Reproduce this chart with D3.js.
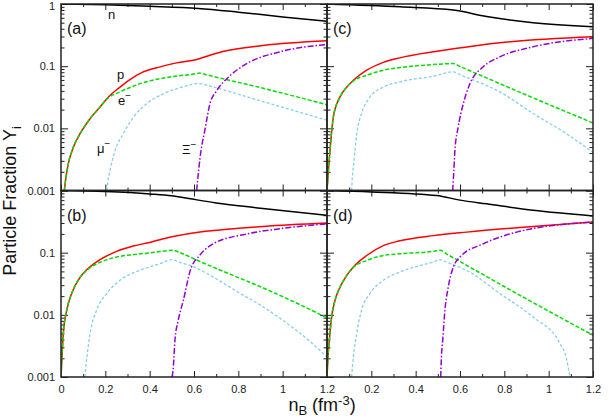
<!DOCTYPE html>
<html>
<head>
<meta charset="utf-8">
<script src="https://cdn.jsdelivr.net/npm/d3@7"></script>
<style>
  body { margin: 0; background: #fff; }
  svg { font-family: "Liberation Sans", Arial, Helvetica, sans-serif; }
</style>
</head>
<body>
<div id="chart"></div>
<script>
// particle fractions Y_i vs baryon density n_B (fm^-3)
// panel (a)
const aN  = [[0,1.0],[0.2,0.97],[0.4,0.92],[0.62,0.85],[0.8,0.74],[1.0,0.62],[1.2,0.53]];
const aP  = [[0.015,0.001],[0.022,0.0016],[0.033,0.0027],[0.056,0.005],[0.086,0.0082],[0.131,0.0143],[0.176,0.022],[0.214,0.032],[0.266,0.046],[0.311,0.061],[0.371,0.081],[0.447,0.0975],[0.522,0.113],[0.612,0.128],[0.672,0.15],[0.73,0.172],[0.91,0.215],[1.2,0.256]];
const aE  = [[0.015,0.001],[0.022,0.0016],[0.033,0.0027],[0.056,0.005],[0.086,0.0082],[0.131,0.0143],[0.176,0.022],[0.214,0.031],[0.266,0.0385],[0.326,0.0476],[0.401,0.058],[0.492,0.067],[0.612,0.076],[0.625,0.0775],[0.66,0.0722],[0.913,0.044],[1.2,0.024]];
const aMu = [[0.206,0.001],[0.213,0.0015],[0.221,0.0021],[0.244,0.0044],[0.281,0.0082],[0.326,0.015],[0.387,0.025],[0.462,0.036],[0.537,0.045],[0.612,0.0522],[0.625,0.0525],[0.66,0.049],[0.91,0.027],[1.2,0.0135]];
const aXi = [[0.612,0.001],[0.619,0.0018],[0.627,0.0033],[0.65,0.0098],[0.672,0.025],[0.702,0.04],[0.762,0.07],[0.838,0.11],[0.988,0.17],[1.2,0.223]];
// panel (b)
const bN  = [[0,1.0],[0.2,0.96],[0.4,0.88],[0.5,0.82],[0.55,0.77],[0.7,0.63],[0.9,0.52],[1.2,0.4]];
const bP  = [[0,0.001],[0.004,0.002],[0.0105,0.005],[0.026,0.0119],[0.048,0.022],[0.086,0.04],[0.116,0.053],[0.131,0.059],[0.176,0.077],[0.251,0.105],[0.326,0.128],[0.4,0.146],[0.5,0.18],[0.627,0.215],[0.75,0.237],[0.913,0.264],[1.2,0.299]];
const bE  = [[0,0.001],[0.004,0.002],[0.0105,0.005],[0.026,0.0119],[0.048,0.022],[0.086,0.04],[0.116,0.052],[0.176,0.07],[0.251,0.085],[0.326,0.093],[0.4,0.099],[0.507,0.109],[0.537,0.1],[0.627,0.072],[0.75,0.047],[0.913,0.027],[1.2,0.009]];
const bMu = [[0.108,0.001],[0.113,0.0016],[0.119,0.0024],[0.131,0.005],[0.161,0.0119],[0.206,0.022],[0.266,0.036],[0.356,0.052],[0.447,0.0665],[0.5,0.077],[0.53,0.071],[0.6,0.059],[0.7,0.038],[0.8,0.023],[0.9,0.0143],[1.0,0.0082],[1.1,0.0044],[1.2,0.0021]];
const bXi = [[0.502,0.001],[0.507,0.0015],[0.514,0.0039],[0.529,0.0082],[0.552,0.0171],[0.582,0.05],[0.627,0.092],[0.687,0.139],[0.838,0.2],[0.988,0.243],[1.2,0.29]];
// panel (c)
const cN  = [[0,1.0],[0.33,0.9],[0.57,0.8],[0.72,0.63],[0.93,0.5],[1.2,0.43]];
const cP  = [[0,0.001],[0.006,0.002],[0.0135,0.0044],[0.0286,0.0152],[0.0586,0.032],[0.089,0.046],[0.119,0.059],[0.179,0.086],[0.254,0.115],[0.329,0.136],[0.48,0.17],[0.57,0.19],[0.78,0.238],[1.2,0.297]];
const cE  = [[0,0.001],[0.006,0.002],[0.0135,0.0044],[0.0286,0.0152],[0.0586,0.032],[0.089,0.046],[0.119,0.058],[0.179,0.0716],[0.254,0.086],[0.329,0.095],[0.48,0.106],[0.57,0.11],[0.6,0.099],[0.886,0.036],[1.2,0.0122]];
const cMu = [[0.111,0.001],[0.114,0.0016],[0.119,0.0024],[0.134,0.0082],[0.156,0.0173],[0.194,0.032],[0.254,0.046],[0.329,0.056],[0.48,0.069],[0.57,0.081],[0.6,0.073],[0.78,0.0385],[0.93,0.0173],[1.08,0.0082],[1.2,0.0041]];
const cXi = [[0.567,0.001],[0.572,0.002],[0.577,0.0044],[0.592,0.0105],[0.615,0.025],[0.645,0.0525],[0.705,0.098],[0.78,0.141],[0.93,0.205],[1.2,0.28]];
// panel (d)
const dN  = [[0,1.0],[0.2,0.95],[0.495,0.83],[0.6,0.7],[0.72,0.61],[0.93,0.48],[1.2,0.39]];
const dP  = [[0,0.001],[0.004,0.002],[0.0105,0.0039],[0.021,0.0093],[0.036,0.017],[0.059,0.028],[0.089,0.043],[0.119,0.059],[0.179,0.09],[0.254,0.13],[0.329,0.155],[0.48,0.188],[0.63,0.214],[0.93,0.264],[1.2,0.31]];
const dE  = [[0,0.001],[0.004,0.002],[0.0105,0.0039],[0.021,0.0093],[0.036,0.017],[0.059,0.028],[0.089,0.043],[0.119,0.058],[0.179,0.075],[0.254,0.09],[0.329,0.096],[0.48,0.105],[0.51,0.109],[0.54,0.095],[0.856,0.022],[1.2,0.0047]];
const dMu = [[0.111,0.001],[0.115,0.0015],[0.119,0.0021],[0.134,0.005],[0.156,0.0119],[0.194,0.022],[0.254,0.036],[0.329,0.049],[0.48,0.071],[0.51,0.077],[0.54,0.07],[0.63,0.052],[0.78,0.022],[0.93,0.0092],[1.05,0.0035],[1.08,0.002],[1.096,0.001]];
const dXi = [[0.513,0.001],[0.516,0.002],[0.522,0.0039],[0.532,0.0119],[0.547,0.028],[0.57,0.059],[0.6,0.085],[0.705,0.139],[0.856,0.214],[1.2,0.31]];

const xMajor = [0, 0.2, 0.4, 0.6, 0.8, 1, 1.2];
const xMinor = [0.1, 0.3, 0.5, 0.7, 0.9, 1.1];
const xTickLabels = ["0", "0.2", "0.4", "0.6", "0.8", "1", "1.2"];
const yMajor = [0.001, 0.01, 0.1, 1];
const yTickLabels = ["0.001", "0.01", "0.1", "1"];

// curve labels in panel (a), data coords
const aLabels = [
  { name: "n", sup: "", x: 0.212, y: 0.57 },
  { name: "p", sup: "", x: 0.253, y: 0.0617 },
  { name: "e", sup: "\u2212", x: 0.257, y: 0.0235 },
  { name: "\u03bc", sup: "\u2212", x: 0.162, y: 0.00395 },
  { name: "\u039e", sup: "\u2212", x: 0.546, y: 0.0038 }
];

const styles = {
  n:  { color: "#000000", dash: null, w: 1.5 },
  p:  { color: "#ff0000", dash: null, w: 1.5 },
  e:  { color: "#00dd00", dash: "4,2", w: 1.5 },
  mu: { color: "#87ceeb", dash: "3,2", w: 1.3 },
  xi: { color: "#9400d3", dash: "6,2,1.5,2", w: 1.5 }
};

const panels = [
  { id: "a", col: 0, row: 0, n: aN, p: aP, e: aE, mu: aMu, xi: aXi },
  { id: "b", col: 0, row: 1, n: bN, p: bP, e: bE, mu: bMu, xi: bXi },
  { id: "c", col: 1, row: 0, n: cN, p: cP, e: cE, mu: cMu, xi: cXi },
  { id: "d", col: 1, row: 1, n: dN, p: dP, e: dE, mu: dMu, xi: dXi }
];

const width = 609, height = 420;
const margin = { left: 61, top: 4 };
const pw = 266, ph = 186.5;

const svg = d3.select("#chart").append("svg")
    .attr("width", width)
    .attr("height", height);

const yMinor = [];
[0.001, 0.01, 0.1].forEach(d => { for (let k = 2; k <= 9; k++) yMinor.push(d * k); });

panels.forEach(function(pan) {
    const x0 = margin.left + pan.col * pw;
    const y0 = margin.top + pan.row * ph;

    const x = d3.scaleLinear().domain([0, 1.2]).range([x0, x0 + pw]);
    const y = d3.scaleLog().domain([0.001, 1]).range([y0 + ph, y0]);

    const g = svg.append("g").attr("class", "panel-" + pan.id);

    g.append("clipPath").attr("id", "clip-" + pan.id)
      .append("rect")
        .attr("x", x0).attr("y", y0).attr("width", pw).attr("height", ph);

    // ticks (inward) on all four sides
    const bottomLab = pan.row === 1;
    const leftLab = pan.col === 0;

    const xFmt = function(d) {
        if (!bottomLab) return "";
        if (pan.col === 1 && d === 0) return "";
        return xTickLabels[xMajor.indexOf(d)];
    };
    const yFmt = function(d) {
        if (!leftLab) return "";
        if (pan.row === 1 && d === 1) return "";
        return yTickLabels[yMajor.indexOf(d)];
    };

    const axes = [
        { ax: d3.axisBottom(x).tickValues(xMajor).tickSize(-6).tickPadding(8).tickFormat(xFmt), t: [0, y0 + ph] },
        { ax: d3.axisBottom(x).tickValues(xMinor).tickSize(-3).tickFormat(""), t: [0, y0 + ph] },
        { ax: d3.axisTop(x).tickValues(xMajor).tickSize(-6).tickFormat(""), t: [0, y0] },
        { ax: d3.axisTop(x).tickValues(xMinor).tickSize(-3).tickFormat(""), t: [0, y0] },
        { ax: d3.axisLeft(y).tickValues(yMajor).tickSize(-7).tickPadding(6).tickFormat(yFmt), t: [x0, 0] },
        { ax: d3.axisLeft(y).tickValues(yMinor).tickSize(-3.5).tickFormat(""), t: [x0, 0] },
        { ax: d3.axisRight(y).tickValues(yMajor).tickSize(-7).tickFormat(""), t: [x0 + pw, 0] },
        { ax: d3.axisRight(y).tickValues(yMinor).tickSize(-3.5).tickFormat(""), t: [x0 + pw, 0] }
    ];
    axes.forEach(function(a) {
        const ag = g.append("g")
            .attr("transform", "translate(" + a.t[0] + "," + a.t[1] + ")")
            .call(a.ax);
        ag.select(".domain").remove();
        ag.selectAll("line").attr("stroke", "#222").attr("stroke-width", 1);
        ag.selectAll("text").filter(function() { return this.textContent === ""; }).remove();
        ag.selectAll("text").attr("font-size", 11).attr("fill", "#222")
            .attr("font-family", "Liberation Sans, Arial, sans-serif");
        // the top "1" sits right at the page edge, nudge it down a little
        ag.selectAll("text").filter(function() { return this.textContent === "1" && a.t[1] === 0; })
            .attr("dy", "0.5em");
    });

    // curves
    const line = d3.line()
        .x(d => x(d[0]))
        .y(d => y(d[1]))
        .curve(d3.curveMonotoneX);

    const cg = g.append("g").attr("clip-path", "url(#clip-" + pan.id + ")");
    ["n", "p", "e", "mu", "xi"].forEach(function(key) {
        const s = styles[key];
        cg.append("path")
            .datum(pan[key])
            .attr("fill", "none")
            .attr("stroke", s.color)
            .attr("stroke-width", s.w)
            .attr("stroke-dasharray", s.dash)
            .attr("d", line);
    });

    // frame
    g.append("rect")
        .attr("x", x0).attr("y", y0).attr("width", pw).attr("height", ph)
        .attr("fill", "none").attr("stroke", "#222").attr("stroke-width", 1.5);

    // panel letter
    g.append("text")
        .attr("x", x0 + 6)
        .attr("y", y0 + 30)
        .attr("font-size", 16)
        .attr("fill", "#111")
        .text("(" + pan.id + ")");

    if (pan.id === "a") {
        const lab = g.selectAll(".clabel")
            .data(aLabels)
            .enter().append("text")
            .attr("class", "clabel")
            .attr("x", d => x(d.x))
            .attr("y", d => y(d.y))
            .attr("font-size", 13)
            .attr("fill", "#111");
        lab.append("tspan").text(d => d.name);
        lab.append("tspan")
            .attr("font-size", 10)
            .attr("dy", -6)
            .text(d => d.sup);
    }
});

// axis titles
const yTitle = svg.append("text")
    .attr("transform", "translate(16,201) rotate(-90)")
    .attr("text-anchor", "middle")
    .attr("font-size", 18)
    .attr("fill", "#111");
yTitle.append("tspan").text("Particle Fraction  Y");
yTitle.append("tspan").attr("font-size", 13).attr("dy", 5).text("i");

const xTitle = svg.append("text")
    .attr("x", 322)
    .attr("y", 411)
    .attr("text-anchor", "middle")
    .attr("font-size", 18)
    .attr("fill", "#111");
xTitle.append("tspan").text("n");
xTitle.append("tspan").attr("font-size", 13).attr("dy", 4).text("B");
xTitle.append("tspan").attr("dy", -4).text(" (fm");
xTitle.append("tspan").attr("font-size", 13).attr("dy", -6).text("-3");
xTitle.append("tspan").attr("dy", 6).text(")");
</script>
</body>
</html>
